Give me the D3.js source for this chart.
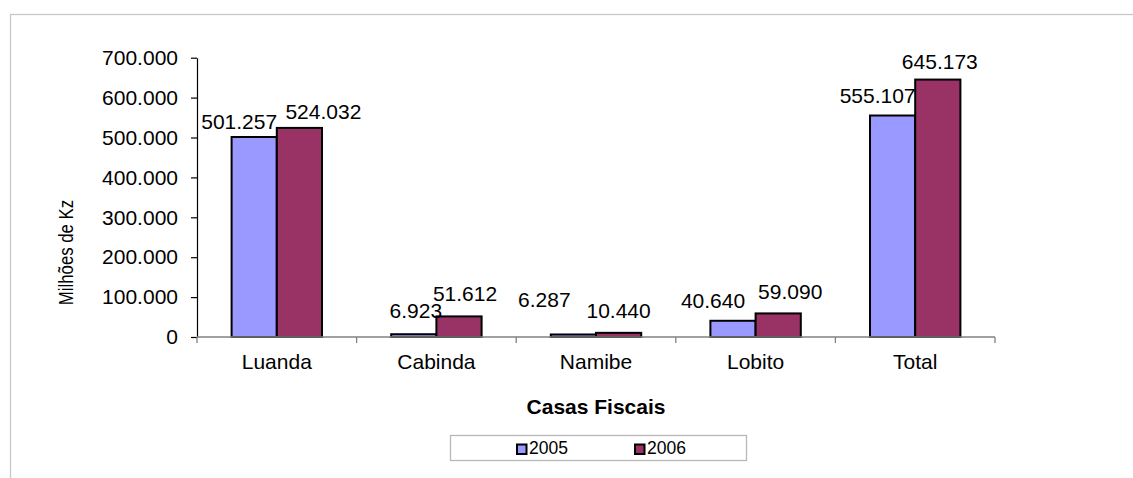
<!DOCTYPE html>
<html>
<head>
<meta charset="utf-8">
<script src="https://cdn.jsdelivr.net/npm/d3@7"></script>
<style>
  html, body { margin: 0; padding: 0; background: #fff; }
  svg { display: block; font-family: "Liberation Sans", Arial, sans-serif; }
</style>
</head>
<body>
<svg id="chart" width="1133" height="478"></svg>
<script>
// ---- data ----
const categories = ["Luanda", "Cabinda", "Namibe", "Lobito", "Total"];
const seriesNames = ["2005", "2006"];
const values2005 = [501257, 6923, 6287, 40640, 555107];
const values2006 = [524032, 51612, 10440, 59090, 645173];
const labels2005 = ["501.257", "6.923", "6.287", "40.640", "555.107"];
const labels2006 = ["524.032", "51.612", "10.440", "59.090", "645.173"];
const yTickValues = [0, 100000, 200000, 300000, 400000, 500000, 600000, 700000];
const yTickLabels = ["0", "100.000", "200.000", "300.000", "400.000", "500.000", "600.000", "700.000"];
const xTitle = "Casas Fiscais";
const yTitle = "Milhões de Kz";

// ---- layout / style ----
const colors = ["#9999FF", "#993366"];
// label placement nudges (relative to default above-bar-center position), per series
const nudge2005 = [[-15, 3], [2, -5], [-29, -16], [-20, -2], [-15, -2]];
const nudge2006 = [[24, 2], [6, -4], [0, -4], [12, -3], [2, 0]];

const svg = d3.select("#chart");

// chart border (light gray frame)
svg.append("rect")
  .attr("x", 10.5).attr("y", 14.5)
  .attr("width", 1140).attr("height", 480)
  .attr("fill", "none").attr("stroke", "#c8c8c8").attr("stroke-width", 1.3);

const x0 = d3.scaleBand().domain(categories).range([197, 995]).paddingInner(0).paddingOuter(0);
const x1 = d3.scaleBand().domain(seriesNames).range([34.6, x0.bandwidth() - 34.6]).padding(0);
const y = d3.scaleLinear().domain([0, 700000]).range([337, 57.7]);

const data = categories.map((c, i) => ({
  cat: c,
  vals: [
    { s: "2005", v: values2005[i], label: labels2005[i], n: nudge2005[i], color: colors[0] },
    { s: "2006", v: values2006[i], label: labels2006[i], n: nudge2006[i], color: colors[1] }
  ]
}));

// y axis
const yAxis = d3.axisLeft(y)
  .tickValues(yTickValues)
  .tickFormat((d, i) => yTickLabels[i])
  .tickSizeInner(6).tickSizeOuter(0).tickPadding(13);
const gy = svg.append("g").attr("transform", "translate(197,0)").call(yAxis);
gy.select(".domain").attr("stroke", "#000").attr("stroke-width", 1.2);
gy.selectAll(".tick line").attr("stroke", "#000").attr("stroke-width", 1.2);
gy.selectAll(".tick text")
  .attr("font-size", "21px").attr("fill", "#000")
  .attr("font-family", "Liberation Sans, Arial, sans-serif");

// bars
const groups = svg.append("g").selectAll("g")
  .data(data).join("g")
  .attr("transform", d => `translate(${x0(d.cat)},0)`);

groups.selectAll("rect")
  .data(d => d.vals).join("rect")
  .attr("x", d => x1(d.s))
  .attr("y", d => y(d.v))
  .attr("width", x1.bandwidth())
  .attr("height", d => y(0) - y(d.v))
  .attr("fill", d => d.color)
  .attr("stroke", "#000")
  .attr("stroke-width", 2);

// x axis (drawn after bars)
const xAxisScale = d3.scalePoint().domain(d3.range(categories.length + 1)).range([197, 995]);
const gx = svg.append("g").attr("transform", `translate(0,${y(0)})`);
gx.append("line")
  .attr("x1", 197).attr("x2", 995).attr("y1", 0).attr("y2", 0)
  .attr("stroke", "#808080").attr("stroke-width", 1.3);
gx.selectAll("line.tick")
  .data(d3.range(categories.length + 1)).join("line")
  .attr("class", "tick")
  .attr("x1", d => xAxisScale(d)).attr("x2", d => xAxisScale(d))
  .attr("y1", 0).attr("y2", 6)
  .attr("stroke", "#808080").attr("stroke-width", 1.3);
gx.selectAll("text.cat")
  .data(categories).join("text")
  .attr("class", "cat")
  .attr("x", d => x0(d) + x0.bandwidth() / 2)
  .attr("y", 32)
  .attr("text-anchor", "middle")
  .attr("font-size", "21px")
  .attr("fill", "#000")
  .text(d => d);

// data labels
groups.selectAll("text")
  .data(d => d.vals).join("text")
  .attr("x", d => x1(d.s) + x1.bandwidth() / 2 + d.n[0])
  .attr("y", d => y(d.v) - 11 + d.n[1])
  .attr("text-anchor", "middle")
  .attr("font-size", "21px")
  .attr("fill", "#000")
  .text(d => d.label);

// axis titles
svg.append("text")
  .attr("x", 596).attr("y", 413.5)
  .attr("text-anchor", "middle")
  .attr("font-size", "21px").attr("font-weight", "bold")
  .text(xTitle);

svg.append("text")
  .attr("transform", "translate(73,252.5) rotate(-90) scale(0.8,1)")
  .attr("text-anchor", "middle")
  .attr("font-size", "21px")
  .text(yTitle);

// legend
const legend = svg.append("g");
legend.append("rect")
  .attr("x", 450.5).attr("y", 435.5).attr("width", 296).attr("height", 25)
  .attr("fill", "#fff").attr("stroke", "#b8b8b8").attr("stroke-width", 1.3);
const legendX = d3.scalePoint().domain(seriesNames).range([516.5, 634.5]);
const li = legend.selectAll("g.item").data(seriesNames).join("g")
  .attr("class", "item")
  .attr("transform", d => `translate(${legendX(d)},444)`);
li.append("rect")
  .attr("x", 0.5).attr("y", 0.5).attr("width", 9.5).attr("height", 9.5)
  .attr("fill", (d, i) => colors[i]).attr("stroke", "#000").attr("stroke-width", 2);
li.append("text")
  .attr("x", 12.5).attr("y", 10.3)
  .attr("font-size", "17.5px")
  .text(d => d);
</script>
</body>
</html>
